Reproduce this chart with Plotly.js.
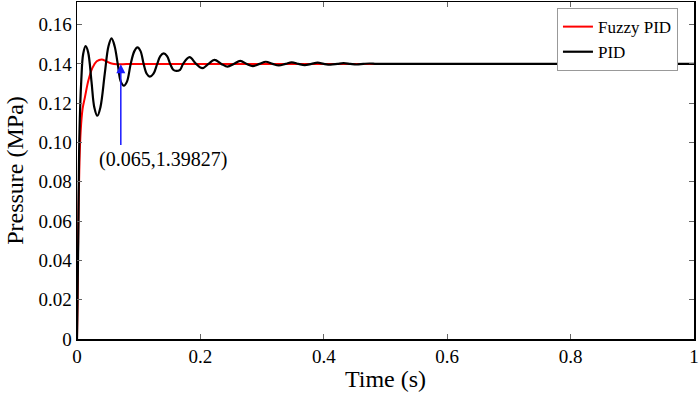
<!DOCTYPE html>
<html>
<head>
<meta charset="utf-8">
<script src="https://cdn.plot.ly/plotly-3.0.1.min.js"></script>
<style>html,body{margin:0;padding:0;background:#fff;}#chart{width:700px;height:397px;}</style>
</head>
<body>
<div id="chart"></div>
<script>
// PID response (time s, pressure MPa)
const pidTime = [0, 0.002, 0.004, 0.007, 0.010, 0.014, 0.018, 0.0235, 0.028, 0.033, 0.038, 0.045, 0.051, 0.056, 0.061, 0.066, 0.071, 0.076, 0.081, 0.087, 0.093, 0.098, 0.103, 0.108, 0.113, 0.118, 0.124, 0.130, 0.135, 0.1405, 0.146, 0.151, 0.156, 0.161, 0.167, 0.172, 0.1824, 0.193, 0.203, 0.213, 0.2227, 0.234, 0.244, 0.254, 0.2646, 0.275, 0.285, 0.296, 0.306, 0.317, 0.327, 0.338, 0.348, 0.359, 0.369, 0.380, 0.390, 0.400, 0.411, 0.422, 0.432, 0.443, 0.453, 0.464, 0.474, 0.485, 0.50, 1.0];
const pidValue = [0, 0.05, 0.105, 0.132, 0.145, 0.149, 0.146, 0.131, 0.118, 0.1136, 0.118, 0.135, 0.149, 0.153, 0.149, 0.140, 0.131, 0.1289, 0.131, 0.140, 0.1465, 0.1484, 0.1465, 0.140, 0.135, 0.1335, 0.135, 0.140, 0.144, 0.1454, 0.144, 0.140, 0.137, 0.1364, 0.137, 0.140, 0.1434, 0.140, 0.1378, 0.140, 0.1420, 0.140, 0.1386, 0.140, 0.1415, 0.140, 0.1389, 0.140, 0.1411, 0.140, 0.1392, 0.140, 0.1408, 0.140, 0.1394, 0.140, 0.1406, 0.140, 0.1396, 0.140, 0.1404, 0.140, 0.1397, 0.140, 0.1402, 0.140, 0.140, 0.140];
// Fuzzy PID response
const fuzzyTime = [0, 0.001, 0.002, 0.004, 0.006, 0.009, 0.013, 0.0186, 0.025, 0.032, 0.040, 0.048, 0.056, 0.065, 0.080, 0.100, 1.0];
const fuzzyValue = [0, 0.02, 0.0555, 0.09, 0.106, 0.117, 0.1233, 0.1318, 0.138, 0.1413, 0.1423, 0.1412, 0.1402, 0.13983, 0.1399, 0.140, 0.140];
// Axis ticks
const xTicks = [0, 0.2, 0.4, 0.6, 0.8, 1];
const xTickText = ['0', '0.2', '0.4', '0.6', '0.8', '1'];
const yTicks = [0, 0.02, 0.04, 0.06, 0.08, 0.10, 0.12, 0.14, 0.16];
const yTickText = ['0', '0.02', '0.04', '0.06', '0.08', '0.10', '0.12', '0.14', '0.16'];
// Marked point
const markLabel = '(0.065,1.39827)';
const markX = 0.071, markY = 0.1398, markTailY = 0.098;

const serif = '"Liberation Serif", "Times New Roman", Times, serif';

const traces = [
  {x: fuzzyTime, y: fuzzyValue, name: 'Fuzzy PID', mode: 'lines', line: {color: '#ff0000', width: 2, shape: 'spline'}},
  {x: pidTime, y: pidValue, name: 'PID', mode: 'lines', line: {color: '#000000', width: 2.2, shape: 'spline'}}
];

const layout = {
  width: 700, height: 397,
  margin: {l: 77, r: 6, t: 2, b: 58},
  paper_bgcolor: '#fff', plot_bgcolor: '#fff',
  font: {family: serif, color: '#000', size: 19},
  showlegend: true,
  legend: {x: 0.974, y: 0.982, xanchor: 'right', yanchor: 'top', bgcolor: '#fff', bordercolor: '#999', borderwidth: 1,
           font: {family: serif, size: 17, color: '#000'}, itemwidth: 30, tracegroupgap: 0},
  xaxis: {range: [0, 1], tickvals: xTicks, ticktext: xTickText, ticks: 'inside', ticklen: 5, tickcolor: '#666',
          ticklabeloverflow: 'allow',
          showline: true, linecolor: '#000', linewidth: 1.5, mirror: 'ticks', showgrid: false, zeroline: false,
          tickfont: {family: serif, size: 19}, title: {text: 'Time (s)', font: {family: serif, size: 24}, standoff: 4}},
  yaxis: {range: [0, 0.1715], tickvals: yTicks, ticktext: yTickText, ticks: 'inside', ticklen: 5, tickcolor: '#666',
          showline: true, linecolor: '#000', linewidth: 1.5, mirror: 'ticks', showgrid: false, zeroline: false,
          tickfont: {family: serif, size: 19}, title: {text: 'Pressure (MPa)', font: {family: serif, size: 24}, standoff: 8}},
  annotations: [
    {x: markX, y: markY, xref: 'x', yref: 'y', ax: markX, ay: markTailY, axref: 'x', ayref: 'y', text: '',
     showarrow: true, arrowhead: 2, arrowsize: 1.2, arrowwidth: 1.5, arrowcolor: '#1a1aff', standoff: 0, startstandoff: 0},
    {x: 0.139, y: 0.0915, xref: 'x', yref: 'y', text: markLabel, showarrow: false,
     font: {family: serif, size: 20, color: '#000'}}
  ]
};

Plotly.newPlot('chart', traces, layout, {displayModeBar: false, staticPlot: true});
</script>
</body>
</html>
